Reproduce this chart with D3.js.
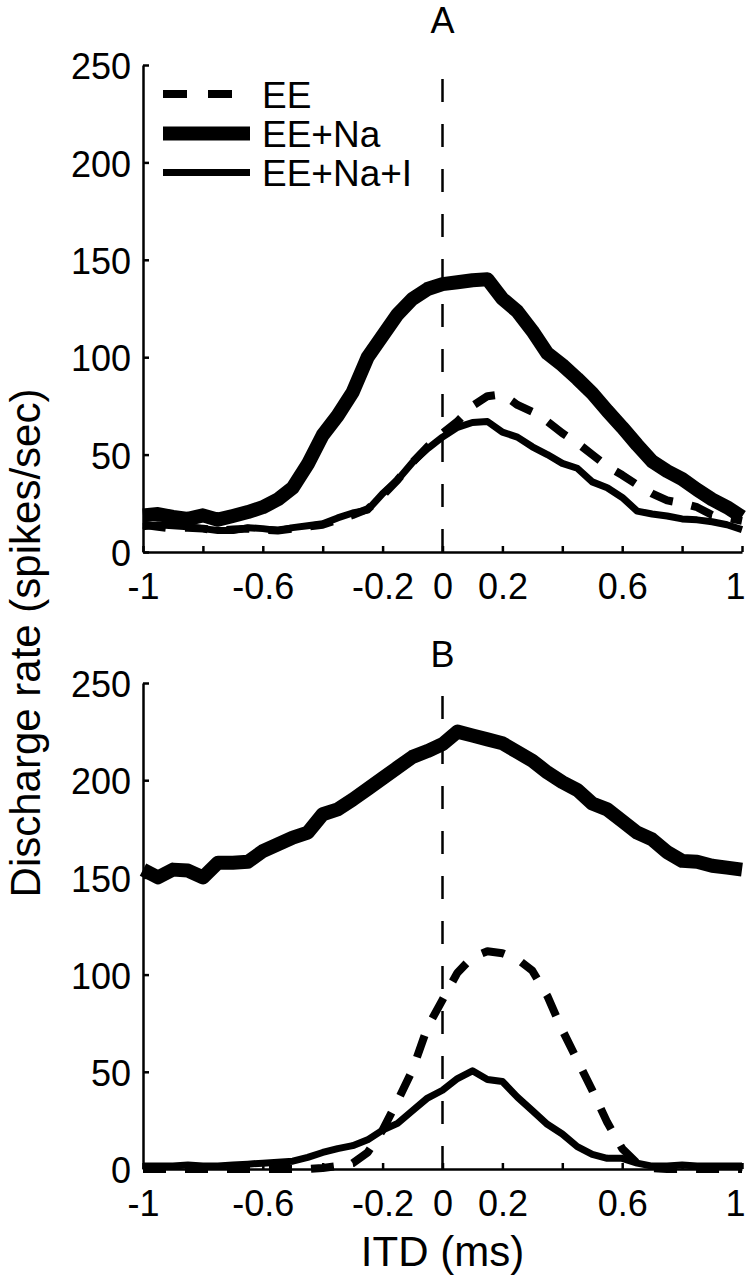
<!DOCTYPE html>
<html>
<head>
<meta charset="utf-8">
<script src="https://cdn.jsdelivr.net/npm/d3@7"></script>
<style>
  html, body { margin: 0; padding: 0; background: #fff; }
  svg { display: block; }
</style>
</head>
<body>
<svg id="chart" width="747" height="1280"></svg>
<script>
// ---------- DATA ----------
const itd = [-1.00,-0.95,-0.90,-0.85,-0.80,-0.75,-0.70,-0.65,-0.60,-0.55,-0.50,-0.45,-0.40,-0.35,-0.30,-0.25,-0.20,-0.15,-0.10,-0.05,
              0.00, 0.05, 0.10, 0.15, 0.20, 0.25, 0.30, 0.35, 0.40, 0.45, 0.50, 0.55, 0.60, 0.65, 0.70, 0.75, 0.80, 0.85, 0.90, 0.95, 1.00];

const seriesNames = ["EE", "EE+Na", "EE+Na+I"];

// Panel A
const aEE = [14,13,12,12.5,12,11,11.5,12,11.5,11,12,13,14,16.5,19,22,29,37,46,54,
             61,67,75,80,81,75.5,72,67,61,56,50,44,39.5,34.5,30,26.5,25,23,19,17.5,16];
const aEENa = [18.8,19.5,18,17,18.8,16.6,18.5,20.5,23,27,33,45,60,70,82,100,111,122,130,135,
               137.5,138.5,139.5,140,130,123.5,113.5,102,96,89,81.5,72.5,64,55,46.5,41.5,37.5,32,27,23,18];
const aEENaI = [13,14,13.5,13,12,11,11,12.5,12,11,12.5,13.5,14.5,17.5,20,21.5,30,37,46,53,
                59,64,66.5,67,61.5,59,54,50,45.5,43,36,33,28,21,19.5,18.5,17,16.5,15.5,14,11.5];

// Panel B
const bEE = [0,0,0,0,0,0,0,0,0,0,0,0,0.5,1.5,3,8.5,20,35,51,73,
             87,101,109,112,111,108,102,89,71.5,56,40.5,24,10.5,3,0.5,0,0,0,0,0,0];
const bEENa = [154,150,154,153.5,150,157.5,157.5,158,163.5,167,170.5,173,182.5,185,190,195.5,201,206.5,212,215,
               218.5,225,223,221,219,214.5,210,204,199,195,188,185,179,173,169.5,163,158.5,158,156,155,154];
const bEENaI = [1.5,1.5,1.5,2,1.5,1.5,2,2.5,3,3.5,4,6,8.5,10.5,12,15,20,23.5,30,36.5,
                40.5,46.5,50.5,46,45,37,30,23,18,11.5,7.5,5.5,5.5,3,1.5,1.5,2,1.5,1.5,1.5,1.5];

const yTicks = [0, 50, 100, 150, 200, 250];
const xTicks = [-1, -0.8, -0.6, -0.4, -0.2, 0, 0.2, 0.4, 0.6, 0.8, 1];
const xTickLabels = ["-1", "", "-0.6", "", "-0.2", "0", "0.2", "", "0.6", "", "1"];
const panelTitles = ["A", "B"];
const xLabel = "ITD (ms)";
const yLabel = "Discharge rate (spikes/sec)";

// ---------- LAYOUT ----------
const svg = d3.select("#chart");
const FONT = "'Liberation Sans', Arial, Helvetica, sans-serif";
const left = 143, right = 742;
const panels = [
  { title: panelTitles[0], top: 65, bottom: 552, titleY: 33, data: [aEE, aEENa, aEENaI], legend: true },
  { title: panelTitles[1], top: 683, bottom: 1169, titleY: 667, data: [bEE, bEENa, bEENaI], legend: false }
];

const styles = [
  { width: 8, dash: "23,19" },
  { width: 14, dash: null },
  { width: 7, dash: null }
];

const x = d3.scaleLinear().domain([-1, 1]).range([left, right]);

panels.forEach(p => {
  const y = d3.scaleLinear().domain([0, 250]).range([p.bottom, p.top]);
  const g = svg.append("g");

  // zero reference line (drawn from bottom upward)
  g.append("line")
    .attr("x1", x(0)).attr("x2", x(0))
    .attr("y1", y(0)).attr("y2", y(250))
    .attr("stroke", "#000").attr("stroke-width", 2.5)
    .attr("stroke-dasharray", "23,22");

  // axes
  const yAxis = d3.axisLeft(y).tickValues(yTicks).tickSize(-6).tickSizeOuter(0).tickPadding(12)
    .tickFormat(d3.format("d"));
  const gy = g.append("g").attr("transform", `translate(${left},0)`).call(yAxis);
  const xAxis = d3.axisBottom(x).tickValues(xTicks).tickSize(-6).tickSizeOuter(0).tickPadding(21)
    .tickFormat((d, i) => xTickLabels[i]);
  const gx = g.append("g").attr("transform", `translate(0,${p.bottom})`).call(xAxis);

  [gx, gy].forEach(ax => {
    ax.select(".domain").attr("stroke", "#000").attr("stroke-width", 2.5);
    ax.selectAll(".tick line").attr("stroke", "#000").attr("stroke-width", 2.5);
    ax.selectAll(".tick text").attr("fill", "#000")
      .style("font-family", FONT).style("font-size", "36px");
  });
  gy.selectAll(".tick text").attr("dy", "0.38em");
  // keep the last label ("1") inside the page edge
  gx.selectAll(".tick text").filter(d => d === 1).attr("dx", "-7");

  // series lines
  const line = d3.line().x((d, i) => x(itd[i])).y(d => y(d));
  p.data.forEach((vals, k) => {
    const s = styles[k];
    g.append("path")
      .datum(vals)
      .attr("d", line)
      .attr("fill", "none")
      .attr("stroke", "#000")
      .attr("stroke-width", s.width)
      .attr("stroke-linejoin", "round")
      .attr("stroke-dasharray", s.dash);
  });

  // title
  g.append("text")
    .attr("x", x(0)).attr("y", p.titleY)
    .attr("text-anchor", "middle")
    .style("font-family", FONT).style("font-size", "36px")
    .text(p.title);

  // legend
  if (p.legend) {
    const ly = [94, 133.5, 172.5];
    seriesNames.forEach((name, k) => {
      const s = styles[k];
      g.append("line")
        .attr("x1", 163).attr("x2", 250)
        .attr("y1", ly[k]).attr("y2", ly[k])
        .attr("stroke", "#000").attr("stroke-width", s.width)
        .attr("stroke-dasharray", k === 0 ? "24,21" : null);
      g.append("text")
        .attr("x", 262).attr("y", ly[k] + 13.5)
        .style("font-family", FONT).style("font-size", "37px")
        .text(name);
    });
  }
});

// axis labels
svg.append("text")
  .attr("x", x(0)).attr("y", 1266)
  .attr("text-anchor", "middle")
  .style("font-family", FONT).style("font-size", "42px")
  .text(xLabel);

svg.append("text")
  .attr("transform", "translate(40,643) rotate(-90)")
  .attr("text-anchor", "middle")
  .style("font-family", FONT).style("font-size", "42px")
  .text(yLabel);
</script>
</body>
</html>
